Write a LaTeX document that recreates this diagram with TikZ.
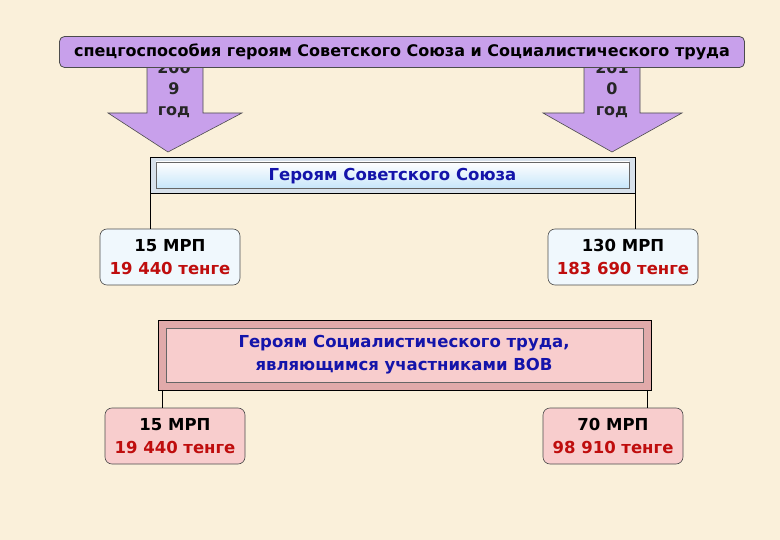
\documentclass[tikz,border=0pt]{standalone}
\usepackage{fontspec}
\setmainfont{DejaVu Sans}
\definecolor{purp}{RGB}{200,160,235}
\definecolor{bg}{RGB}{250,240,218}
\definecolor{frameblue}{RGB}{215,225,235}
\definecolor{lightblue}{RGB}{200,230,250}
\definecolor{paleblue}{RGB}{240,248,253}
\definecolor{txtblue}{RGB}{20,20,170}
\definecolor{pinkdark}{RGB}{225,170,170}
\definecolor{pink}{RGB}{248,205,205}
\definecolor{darkred}{rgb}{0.75,0.05,0.05}
\begin{document}
\begin{tikzpicture}[x=1pt,y=-1pt,
  arr/.style={fill=purp,draw=black!70,line width=0.6pt},
  banner/.style={rounded corners=5pt,fill=purp,draw=black!70,line width=0.8pt},
  bigb/.style={draw=black,line width=0.6pt},
  small/.style={rounded corners=7pt,draw=black!70,line width=0.6pt,minimum width=140pt,minimum height=56pt,align=center,inner sep=0pt,font=\bfseries\fontsize{16.5}{23}\selectfont},
  lbl/.style={font=\bfseries\fontsize{16.5}{23}\selectfont,align=center,inner sep=0pt},
  conn/.style={draw=black,line width=0.6pt}]
\fill[bg] (0,0) rectangle (780,540);
\useasboundingbox (0,0) rectangle (780,540);
% arrows
\draw[arr] (147,60) -- (203,60) -- (203,113) -- (242,113) -- (168,152) -- (108,113) -- (147,113) -- cycle;
\draw[arr] (584,60) -- (640,60) -- (640,113) -- (682,113) -- (612,152) -- (543,113) -- (584,113) -- cycle;
\node[lbl,text=black!85,font=\bfseries\fontsize{16}{21}\selectfont] (y1) at (174,90) {200\\9\\год};
\node[lbl,text=black!85,font=\bfseries\fontsize{16}{21}\selectfont] (y2) at (612,90) {201\\0\\год};
% banner
\node[banner,minimum width=685pt,minimum height=31pt,inner sep=0pt,font=\bfseries\fontsize{16}{18}\selectfont] (ban) at (402,52) {спецгоспособия героям Советского Союза и Социалистического труда};
% box 1
\fill[frameblue] (150,157) rectangle (635,193);
\shade[top color=white,bottom color=lightblue] (156,162) rectangle (629,188);
\draw[bigb] (150,157) rectangle (635,193);
\draw[black!60] (156,162) rectangle (629,188);
\node[lbl,text=txtblue] (b1) at (392.5,176) {Героям Советского Союза};
\coordinate (b1l) at (150,193); \coordinate (b1r) at (635,193);
\node[small,fill=paleblue] (s1) at (170,257) {15 МРП\\\textcolor{darkred}{19 440 тенге}};
\node[small,minimum width=150pt,fill=paleblue] (s2) at (623,257) {130 МРП\\\textcolor{darkred}{183 690 тенге}};
\draw[conn] (b1l) -- (b1l |- s1.north);
\draw[conn] (b1r) -- (b1r |- s2.north);
% box 2
\fill[pinkdark] (158,320) rectangle (651,390);
\fill[pink] (166,328) rectangle (643,382);
\draw[bigb] (158,320) rectangle (651,390);
\draw[black!60] (166,328) rectangle (643,382);
\node[lbl,text=txtblue] (b2) at (404,355) {Героям Социалистического труда,\\являющимся участниками ВОВ};
\coordinate (b2l) at (162,390); \coordinate (b2r) at (647,390);
\node[small,fill=pink] (s3) at (175,436) {15 МРП\\\textcolor{darkred}{19 440 тенге}};
\node[small,fill=pink] (s4) at (613,436) {70 МРП\\\textcolor{darkred}{98 910 тенге}};
\draw[conn] (b2l) -- (b2l |- s3.north);
\draw[conn] (b2r) -- (b2r |- s4.north);
\end{tikzpicture}
\end{document}
